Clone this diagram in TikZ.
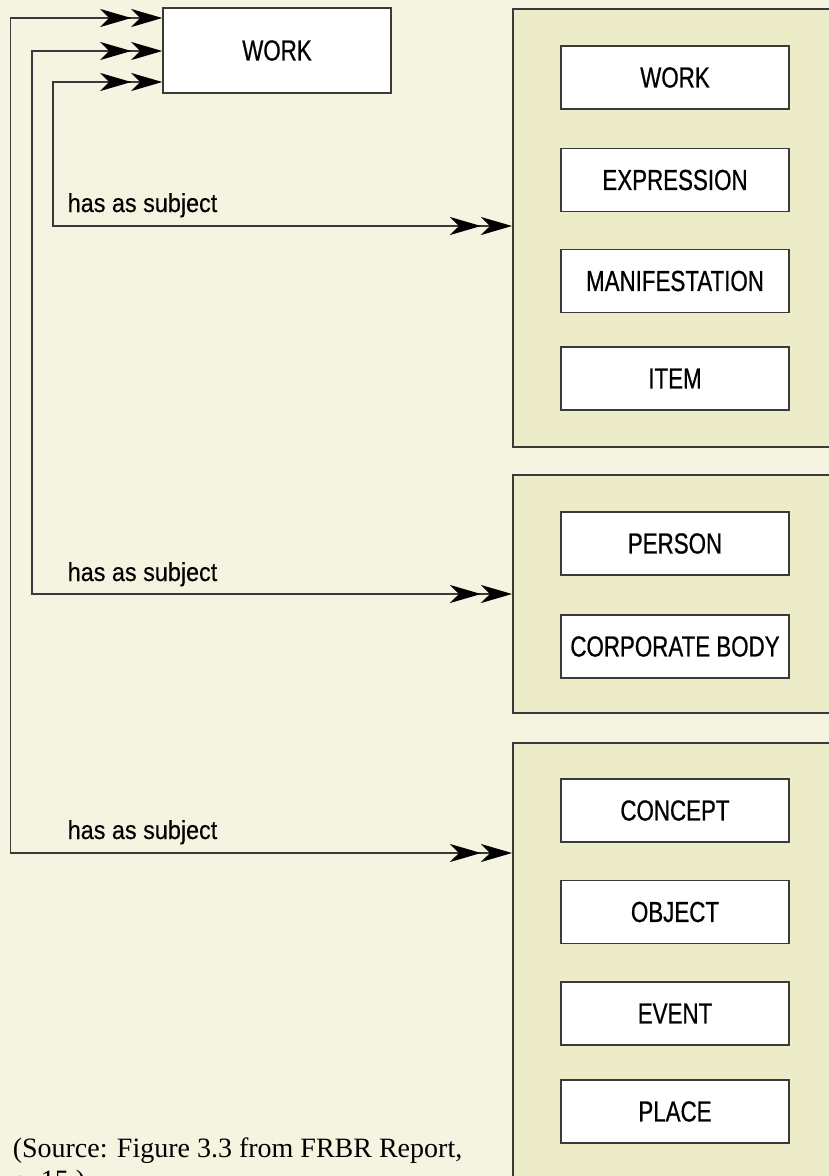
\documentclass[tikz,border=0pt]{standalone}
\usepackage{fontspec}
\usetikzlibrary{arrows.meta}
\newfontfamily\boxfont[FakeStretch=0.77,FakeBold=0.6]{Liberation Sans}
\newfontfamily\relfont[FakeStretch=0.9,FakeBold=0.3]{Liberation Sans}
\newfontfamily\srcfont{Liberation Serif}
\definecolor{pagebg}{HTML}{F4F4E0}
\definecolor{grpfill}{HTML}{EDECC9}
\definecolor{edge}{HTML}{3A3A3A}
\tikzset{
  ent/.style={draw=edge, line width=1.5pt, fill=white, minimum width=228pt, minimum height=63pt,
    inner sep=0pt, font=\boxfont\fontsize{29}{34}\selectfont},
  grp/.style={draw=edge, line width=1.5pt, fill=grpfill, anchor=north west, minimum width=328pt, inner sep=0pt},
  rel/.style={anchor=base west, inner sep=0pt, font=\relfont\fontsize{26}{30}\selectfont},
  src/.style={anchor=base west, inner sep=0pt, font=\srcfont\fontsize{28}{32}\selectfont}
}
\begin{document}
\begin{tikzpicture}[x=1pt, y=-1pt, line width=1.5pt,
  >={Stealth[length=31pt,width=18pt,inset=9pt,color=black] Stealth[length=31pt,width=18pt,inset=9pt,color=black]}]
    \fill[pagebg] (0,0) rectangle (829,1176);
    \useasboundingbox (0,0) rectangle (829,1176);

    % subject work
    \node[ent, minimum height=85pt] (work) at (277,50.5) {WORK};

    % group boxes
    \node[grp, minimum height=438pt] (grp1) at (512,8) {};
    \node[grp, minimum height=238pt] (grp2) at (512,474) {};
    \node[grp, minimum height=460pt] (grp3) at (512,742) {};

    % group 1 entities
    \node[ent] (work2) at (675,77.5) {WORK};
    \node[ent] (expr) at (675,180) {EXPRESSION};
    \node[ent] (manif) at (675,281) {MANIFESTATION};
    \node[ent] (item) at (675,378.5) {ITEM};

    % group 2 entities
    \node[ent] (person) at (675,543.5) {PERSON};
    \node[ent] (corp) at (675,646.5) {CORPORATE BODY};

    % group 3 entities
    \node[ent] (concept) at (675,810.5) {CONCEPT};
    \node[ent] (object) at (675,912) {OBJECT};
    \node[ent] (event) at (675,1013.5) {EVENT};
    \node[ent] (place) at (675,1111.5) {PLACE};

    % bends of the links
    \coordinate (k1) at (53,226);
    \coordinate (k2) at (32,594);
    \coordinate (k3) at (10.5,853);

    % has as subject links
    \draw[<->, edge] (work.west |- 0,82) -| (k1) -- (grp1.west |- k1);
    \draw[<->, edge] (work.west |- 0,51) -| (k2) -- (grp2.west |- k2);
    \draw[<->, edge] (work.west |- 0,18) -| (k3) -- (grp3.west |- k3);
    \node[rel] (lab1) at (67,212) {has as subject};
    \node[rel] (lab2) at (67,581) {has as subject};
    \node[rel] (lab3) at (67,839) {has as subject};

    % source note
    \node[src] (src1) at (12,1157) {(Source: Figure 3.3 from FRBR Report,};
    \node[src] (src2) at (12,1189) {p.~15.)};
\end{tikzpicture}
\end{document}
